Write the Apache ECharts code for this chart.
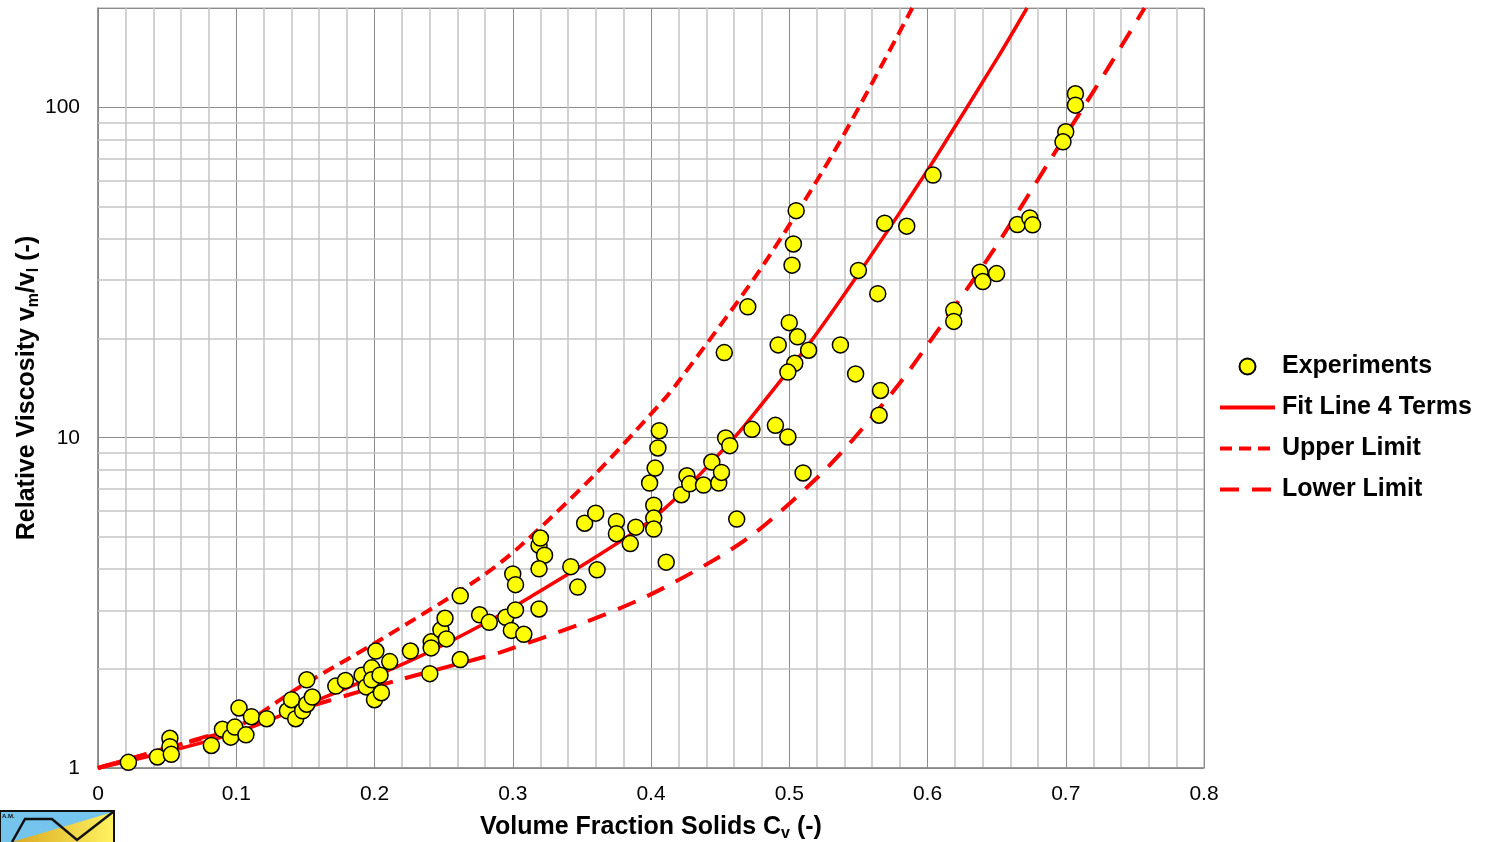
<!DOCTYPE html>
<html><head><meta charset="utf-8">
<script src="https://cdn.jsdelivr.net/npm/echarts@6/dist/echarts.min.js"></script>
<style>html,body{margin:0;padding:0;background:#fff}#c{width:1486px;height:842px}</style>
</head><body><div id="c"></div>
<script>
// ---- Data ----
const expCv = [0.022,0.043,0.052,0.052,0.053,0.082,0.090,0.096,0.099,0.102,0.107,0.111,0.122,0.137,0.140,0.143,0.148,0.151,0.155,0.151,
  0.172,0.179,0.191,0.198,0.194,0.200,0.198,0.204,0.205,0.201,0.211,0.226,0.240,0.241,0.241,0.248,0.251,0.252,0.262,0.262,
  0.276,0.283,0.295,0.302,0.299,0.308,0.319,0.300,0.302,0.319,0.320,0.323,0.319,0.342,0.347,0.352,0.360,0.361,0.375,0.375,
  0.385,0.389,0.402,0.402,0.402,0.399,0.403,0.405,0.406,0.411,0.422,0.426,0.428,0.438,0.444,0.449,0.451,0.454,0.457,0.473,
  0.462,0.490,0.499,0.510,0.505,0.503,0.502,0.470,0.453,0.500,0.506,0.492,0.514,0.504,0.499,0.537,0.548,0.550,0.564,0.569,
  0.585,0.604,0.566,0.565,0.619,0.619,0.707,0.707,0.700,0.698,0.665,0.674,0.676,0.638,0.640,0.650];
const expVisc = [1.04,1.08,1.23,1.16,1.10,1.17,1.31,1.24,1.33,1.52,1.26,1.43,1.41,1.49,1.61,1.41,1.49,1.56,1.64,1.85,
  1.77,1.84,1.91,2.01,1.76,1.61,1.85,1.91,1.69,2.26,2.10,2.26,1.93,2.41,2.31,2.62,2.84,2.46,3.32,2.13,
  2.91,2.76,2.86,3.01,2.61,2.54,3.03,3.87,3.59,4.72,4.97,4.41,4.01,4.07,3.53,5.51,5.91,3.98,5.58,5.12,
  4.78,5.36,6.25,5.71,5.29,7.29,8.09,9.31,10.5,4.20,6.72,7.67,7.25,7.19,8.44,7.29,7.85,9.98,9.46,10.6,
  5.67,10.9,10.05,7.82,48.7,38.6,33.3,24.9,18.1,22.3,20.2,19.1,18.4,16.8,15.8,19.1,15.6,32.1,27.3,44.6,
  43.7,62.4,13.9,11.7,24.3,22.5,110,101.6,84.4,78.7,44.2,46.3,44.1,31.7,29.7,31.4];

const fitCv   = [0, 0.05, 0.10, 0.155, 0.23, 0.284, 0.313, 0.358, 0.397, 0.426, 0.455, 0.469, 0.515, 0.550, 0.578, 0.599, 0.611, 0.651, 0.672];
const fitVisc = [1, 1.12, 1.28, 1.58, 2.15, 2.80, 3.30, 4.30, 5.51, 7.06, 9.47, 11.05, 19.4, 31.3, 46.7, 63.6, 76.3, 142, 200];

const upperCv   = [0, 0.05, 0.10, 0.146, 0.204, 0.274, 0.305, 0.358, 0.409, 0.421, 0.479, 0.532, 0.589];
const upperVisc = [1, 1.15, 1.33, 1.76, 2.44, 3.71, 4.68, 7.63, 13.0, 15.0, 32.3, 72.9, 200];

const lowerCv   = [0, 0.165, 0.218, 0.2595, 0.291, 0.349, 0.397, 0.445, 0.4765, 0.520, 0.546, 0.580, 0.607, 0.648, 0.689, 0.730, 0.757];
const lowerVisc = [1, 1.59, 1.85, 2.06, 2.24, 2.73, 3.31, 4.25, 5.20, 7.55, 9.86, 14.65, 21.0, 37.1, 69.6, 130.4, 200];

const xTicks = [0, 0.1, 0.2, 0.3, 0.4, 0.5, 0.6, 0.7, 0.8];
const yMajor = [1, 10, 100];
const yMinorGrid = [2,3,4,5,6,7,8,9,20,30,40,50,60,70,80,90];
const legendNames = ['Experiments', 'Fit Line 4 Terms', 'Upper Limit', 'Lower Limit'];

// ---- Chart ----
const FONT = '"Liberation Sans", Arial, Helvetica, sans-serif';
const zip = (a, b) => a.map((v, i) => [v, b[i]]);
const chart = echarts.init(document.getElementById('c'), null, {renderer: 'canvas'});

const subRich = {
  a: {fontFamily: FONT, fontSize: 25, fontWeight: 'bold', color: '#000', lineHeight: 30, verticalAlign: 'middle'},
  s: {fontFamily: FONT, fontSize: 16, fontWeight: 'bold', color: '#000', lineHeight: 18, verticalAlign: 'bottom'}
};
const noSymbol = {color: 'rgba(0,0,0,0)', borderWidth: 0, borderColor: 'rgba(0,0,0,0)'};

const option = {
  animation: false,
  backgroundColor: '#fff',
  grid: {left: 98, right: 282, top: 8, bottom: 74, show: true, borderColor: '#a6a6a6', borderWidth: 1,
    backgroundColor: 'transparent', containLabel: false, outerBoundsMode: 'none'},
  xAxis: {
    type: 'value', min: 0, max: 0.8, interval: 0.1,
    axisLine: {show: true, lineStyle: {color: '#868686', width: 1.5}},
    axisTick: {show: false},
    axisLabel: {fontFamily: FONT, fontSize: 21, color: '#000', margin: 16,
      formatter: v => { const t = xTicks.find(x => Math.abs(x - v) < 1e-9); return t === undefined ? '' : String(t); }},
    splitLine: {show: true, lineStyle: {color: '#8c8c8c', width: 1}},
    minorTick: {show: false, splitNumber: 5},
    minorSplitLine: {show: true, lineStyle: {color: '#c4c4c4', width: 1.5}},
    name: '{a|Volume Fraction Solids C}{s|v}{a| (-)}',
    nameLocation: 'middle', nameGap: 44, nameMoveOverlap: false,
    nameTextStyle: {rich: subRich}
  },
  yAxis: {
    type: 'log', logBase: 10, min: 1, max: 200,
    axisLine: {show: true, lineStyle: {color: '#868686', width: 1.5}},
    axisTick: {show: false},
    axisLabel: {fontFamily: FONT, fontSize: 21, color: '#000', margin: 18,
      formatter: v => { const t = yMajor.find(m => Math.abs(Math.log10(v) - Math.log10(m)) < 1e-6); return t === undefined ? '' : String(t); }},
    splitLine: {show: true, lineStyle: {color: '#8c8c8c', width: 1}},
    minorSplitLine: {show: false},
    name: '{a|Relative Viscosity v}{s|m}{a|/v}{s|l}{a| (-)}',
    nameLocation: 'middle', nameGap: 56, nameMoveOverlap: false,
    nameTextStyle: {rich: subRich}
  },
  legend: {
    orient: 'vertical', left: 1213, top: 349,
    itemWidth: 55, itemHeight: 16, itemGap: 16,
    data: [
      {name: legendNames[0]},
      {name: legendNames[1], itemStyle: noSymbol},
      {name: legendNames[2], itemStyle: noSymbol},
      {name: legendNames[3], itemStyle: noSymbol}
    ],
    textStyle: {fontFamily: FONT, fontSize: 25, fontWeight: 'bold', color: '#000', padding: [0, 0, 0, 2]},
    lineStyle: {width: 4},
    selectedMode: false
  },
  series: [
    {
      name: '_grid', type: 'line', data: [], silent: true,
      markLine: {
        silent: true, symbol: 'none', z: 1, animation: false,
        label: {show: false}, emphasis: {disabled: true},
        lineStyle: {color: '#c4c4c4', width: 1.5, type: 'solid'},
        data: yMinorGrid.map(v => ({yAxis: v}))
      }
    },
    {
      name: legendNames[2], type: 'line', data: zip(upperCv, upperVisc), z: 3,
      symbol: 'none', smooth: 0.3, clip: true,
      itemStyle: {color: '#ff0000'},
      lineStyle: {color: '#ff0000', width: 4, type: [12, 7]}
    },
    {
      name: legendNames[3], type: 'line', data: zip(lowerCv, lowerVisc), z: 3,
      symbol: 'none', smooth: 0.3, clip: true,
      itemStyle: {color: '#ff0000'},
      lineStyle: {color: '#ff0000', width: 4, type: [19, 13]}
    },
    {
      name: legendNames[1], type: 'line', data: zip(fitCv, fitVisc), z: 3,
      symbol: 'none', smooth: 0.3, clip: true,
      itemStyle: {color: '#ff0000'},
      lineStyle: {color: '#ff0000', width: 3.5, type: 'solid'}
    },
    {
      name: legendNames[0], type: 'scatter', data: zip(expCv, expVisc), z: 5,
      symbol: 'circle', symbolSize: 16,
      itemStyle: {color: '#ffff00', borderColor: '#000', borderWidth: 1.5, opacity: 1}
    }
  ],
  graphic: [
    {type: 'rect', shape: {x: 0, y: 811, width: 114, height: 40}, style: {fill: '#74c4ee', stroke: '#111', lineWidth: 2}, z: 10},
    {type: 'polygon', shape: {points: [[12, 842], [113, 812], [113, 842]]},
      style: {fill: new echarts.graphic.LinearGradient(0, 0, 1, 0, [{offset: 0, color: '#d9a820'}, {offset: 1, color: '#fff260'}])}, z: 11},
    {type: 'polyline', shape: {points: [[12, 842], [25, 819], [52, 819], [77, 840], [113, 812]]},
      style: {stroke: '#111', lineWidth: 2.5, fill: null}, z: 12},
    {type: 'text', x: 2, y: 813, style: {text: 'A.M.', fontSize: 6, fontWeight: 'bold', fill: '#111', fontFamily: FONT}, z: 12}
  ]
};
chart.setOption(option);
</script>
</body></html>
